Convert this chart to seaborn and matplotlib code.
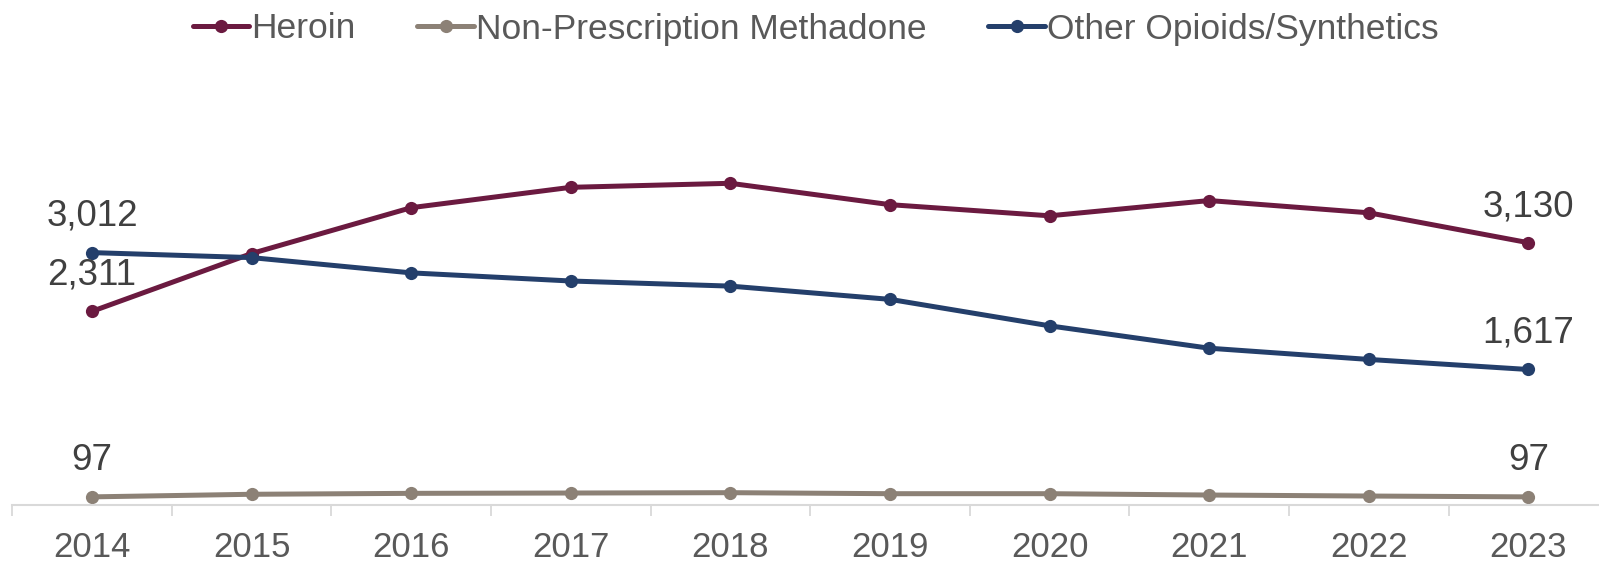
import matplotlib
matplotlib.use("Agg")
import matplotlib.pyplot as plt
import seaborn as sns
import pandas as pd
from matplotlib.ticker import FixedLocator

years = ["2014", "2015", "2016", "2017", "2018", "2019", "2020", "2021", "2022", "2023"]
heroin = [2311, 3001, 3548, 3791, 3839, 3584, 3451, 3633, 3487, 3130]
methadone = [97, 128, 139, 143, 147, 135, 135, 119, 107, 97]
other = [3012, 2952, 2770, 2673, 2612, 2454, 2138, 1871, 1737, 1617]
series_names = ["Heroin", "Non-Prescription Methadone", "Other Opioids/Synthetics"]
colors = ["#6B1A40", "#8C8176", "#243F6B"]

sns.set_theme(style="white")
fam = ['Liberation Sans', 'DejaVu Sans']
plt.rcParams['font.family'] = fam

rows = []
for name, vals in zip(series_names, [heroin, methadone, other]):
    for i, (y, v) in enumerate(zip(years, vals)):
        rows.append({"idx": i, "Year": y, "Value": v, "Series": name})
df = pd.DataFrame(rows)

fig = plt.figure(figsize=(15.99, 5.67), dpi=100)
ax = fig.add_axes([12.2 / 1599, 62 / 567, 1596 / 1599, 419 / 567])

lw = 3.6
ms = 9.5
sns.lineplot(data=df, x="idx", y="Value", hue="Series", hue_order=series_names,
             palette=colors, marker="o", markersize=ms, markeredgewidth=0,
             linewidth=lw, ax=ax, legend=False, sort=False)

ax.set_xlim(-0.5, 9.5)
ax.set_ylim(0, 5000)
ax.set_xlabel("")
ax.set_ylabel("")
ax.set_yticks([])
ax.set_xticks(range(len(years)))
ax.set_xticklabels(years, fontsize=25, color="#595959", family=fam)
ax.tick_params(axis="x", which="major", length=0, pad=19)
ax.xaxis.set_minor_locator(FixedLocator([i - 0.5 for i in range(len(years) + 1)]))
ax.tick_params(axis="x", which="minor", length=8, width=1.3, color="#D9D9D9", direction="out", bottom=True)
for s in ["top", "right", "left"]:
    ax.spines[s].set_visible(False)
ax.spines["bottom"].set_color("#D9D9D9")
ax.spines["bottom"].set_linewidth(1.5)

for vals in [heroin, methadone, other]:
    for i in [0, len(years) - 1]:
        ax.annotate(f"{vals[i]:,}", (i, vals[i]), xytext=(0, 26), textcoords="offset points",
                    ha="center", va="center", fontsize=26.5, color="#404040", family=fam)

handles = [plt.Line2D([], [], color=c, marker="o", markersize=ms, markeredgewidth=0, linewidth=lw)
           for c in colors]
fig.legend(handles, series_names, loc="center", bbox_to_anchor=(0.51, 1 - 29 / 567), ncol=3,
           frameon=False, handlelength=1.6, handletextpad=0.05, columnspacing=1.75,
           labelcolor="#595959", prop={'family': fam, 'size': 25.5})

fig.savefig("out.png", dpi=100)
